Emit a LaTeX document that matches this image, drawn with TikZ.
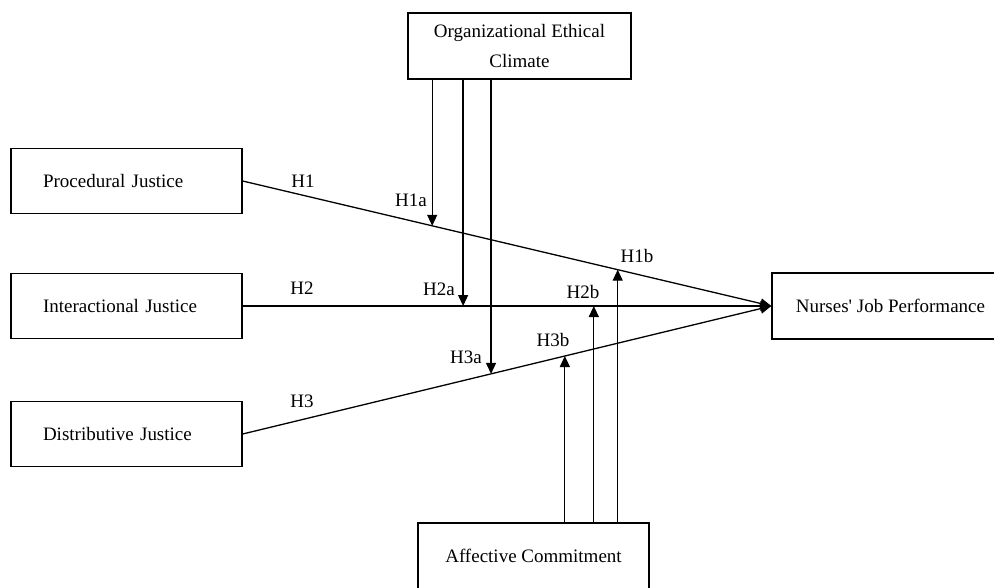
\documentclass[tikz,border=0pt]{standalone}
\usepackage{fontspec}
\setmainfont{Liberation Serif}
\usetikzlibrary{arrows.meta,calc}
\begin{document}
\begin{tikzpicture}[x=1pt,y=-1pt,
  box/.style={draw, line width=1.3pt, rectangle, inner sep=0pt,
    font=\fontsize{19}{23}\selectfont},
  leftbox/.style={box, minimum width=231pt, minimum height=65pt,
    text width=167pt, align=left},
  link/.style={line width=1.3pt, -{Triangle[length=11pt,width=10pt]}},
  hyp/.style={inner sep=0pt, font=\fontsize{19}{23}\selectfont}]

\path[use as bounding box, fill=white] (0,0) rectangle (994,587);

% constructs
\node[leftbox] (pj) at (126.5,181) {Procedural Justice};
\node[leftbox] (ij) at (126.5,306) {Interactional Justice};
\node[leftbox] (dj) at (126.5,434) {Distributive Justice};
\node[box, minimum width=237pt, minimum height=66pt] (njp) at (890.5,306)
  {Nurses\textquotesingle{} Job Performance};
\node[box, minimum width=223pt, minimum height=66pt, align=center,
  font=\fontsize{19}{30}\selectfont] (oec) at (519.5,46)
  {Organizational Ethical\\Climate};
\node[box, minimum width=231pt, minimum height=72pt] (ac) at (533.5,559)
  {Affective Commitment\rule[-7pt]{0pt}{7pt}};

% direct effects
\draw[link] (pj.east) -- (njp.west);
\draw[link] (ij.east) -- (njp.west);
\draw[link] (dj.east) -- (njp.west);

% points where the moderators meet the paths
\coordinate (t1a) at ($(pj.east)!0.3585!(njp.west)$);
\coordinate (t2a) at ($(ij.east)!0.4170!(njp.west)$);
\coordinate (t3a) at ($(dj.east)!0.4698!(njp.west)$);
\coordinate (t1b) at ($(pj.east)!0.7094!(njp.west)$);
\coordinate (t2b) at ($(ij.east)!0.6642!(njp.west)$);
\coordinate (t3b) at ($(dj.east)!0.6094!(njp.west)$);

% moderating effects
\draw[link] (t1a |- oec.south) -- (t1a);
\draw[link] (t2a |- oec.south) -- (t2a);
\draw[link] (t3a |- oec.south) -- (t3a);
\draw[link] (t1b |- ac.north) -- (t1b);
\draw[link] (t2b |- ac.north) -- (t2b);
\draw[link] (t3b |- ac.north) -- (t3b);

% hypothesis labels
\node[hyp] (h1) at (303,181) {H1};
\node[hyp] (h2) at (302,288) {H2};
\node[hyp] (h3) at (302,401) {H3};
\node[hyp] (h1a) at (411,200) {H1a};
\node[hyp] (h2a) at (439,289) {H2a};
\node[hyp] (h3a) at (466,357) {H3a};
\node[hyp] (h1b) at (637,256) {H1b};
\node[hyp] (h2b) at (583,292) {H2b};
\node[hyp] (h3b) at (553,340) {H3b};
\end{tikzpicture}
\end{document}
